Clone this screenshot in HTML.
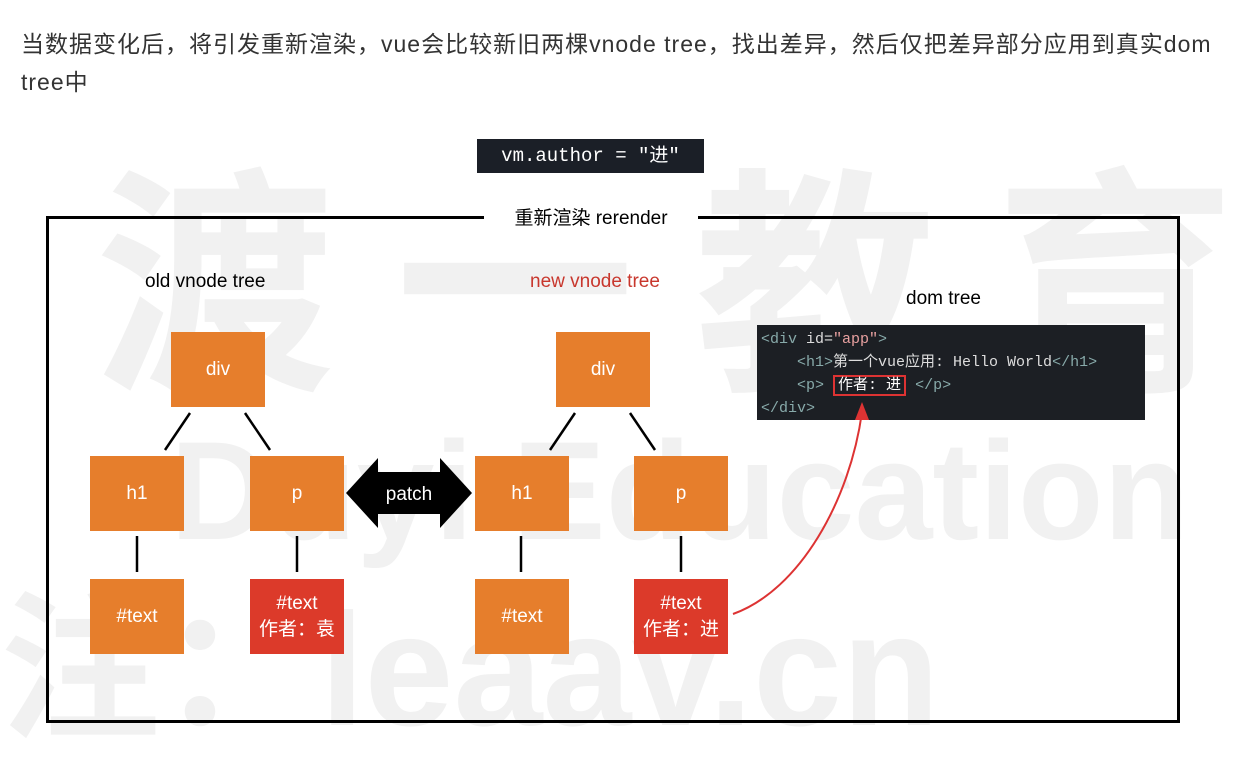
<!DOCTYPE html>
<html><head><meta charset="utf-8"><style>
body{margin:0;width:1256px;height:757px;background:#fff;position:relative;overflow:hidden;font-family:"Liberation Sans","Noto Sans CJK SC",sans-serif}
.a{position:absolute}
.wmc{position:absolute;left:0;top:0;width:1256px;height:757px;overflow:hidden}
.wm{position:absolute;color:#f1f1f1;font-weight:bold;white-space:nowrap}
.b{position:absolute;width:94px;height:75px;background:#e67e2c;color:#fff;font-size:19px;display:flex;align-items:center;justify-content:center;text-align:center;line-height:1.35}
.r{background:#dc3a2a}
.code{font-family:"Liberation Mono","Noto Sans CJK SC",monospace}
</style></head><body>
<div class="wmc">
<div class="wm" style="left:95px;top:95px;font-size:240px;letter-spacing:60px">渡一教育</div>
<div class="wm" style="left:170px;top:410px;font-size:140px">Duyi Education</div>
<div class="wm" style="left:0px;top:540px;font-size:160px">注：leaav.cn</div>
</div>

<div class="a" style="left:21px;top:25px;font-size:23px;color:#333;line-height:38px;width:1235px;letter-spacing:1px;white-space:nowrap">当数据变化后，将引发重新渲染，vue会比较新旧两棵vnode tree，找出差异，然后仅把差异部分应用到真实dom<br>tree中</div>

<div class="a code" style="left:477px;top:139px;width:227px;height:34px;background:#1b1f27;color:#fff;font-size:19px;line-height:34px;text-align:center">vm.author = "进"</div>

<div class="a" style="left:46px;top:216px;width:1128px;height:501px;border:3px solid #000"></div>
<div class="a" style="left:484px;top:204px;width:214px;height:30px;background:#fff;text-align:center;font-size:19px;line-height:30px;color:#000">重新渲染 rerender</div>

<div class="a" style="left:145px;top:271px;font-size:19px">old vnode tree</div>
<div class="a" style="left:530px;top:271px;font-size:19px;color:#c8372d">new vnode tree</div>
<div class="a" style="left:906px;top:288px;font-size:19px">dom tree</div>

<div class="a code" style="left:757px;top:325px;width:388px;height:95px;background:#1c1f24;color:#ddd;font-size:15px;line-height:23px;padding:3px 0 0 4px;box-sizing:border-box;white-space:pre"><span style="color:#8aa">&lt;div</span> id=<span style="color:#e8a0a0">"app"</span><span style="color:#8aa">&gt;</span>
    <span style="color:#8aa">&lt;h1&gt;</span>第一个vue应用: Hello World<span style="color:#8aa">&lt;/h1&gt;</span>
    <span style="color:#8aa">&lt;p&gt;</span> <span style="border:2px solid #d33;color:#fff;padding:0 3px">作者: 进</span> <span style="color:#8aa">&lt;/p&gt;</span>
<span style="color:#8aa">&lt;/div&gt;</span></div>

<div class="b" style="left:171px;top:332px">div</div>
<div class="b" style="left:90px;top:456px">h1</div>
<div class="b" style="left:250px;top:456px">p</div>
<div class="b" style="left:90px;top:579px">#text</div>
<div class="b r" style="left:250px;top:579px">#text<br>作者：袁</div>

<div class="b" style="left:556px;top:332px">div</div>
<div class="b" style="left:475px;top:456px">h1</div>
<div class="b" style="left:634px;top:456px">p</div>
<div class="b" style="left:475px;top:579px">#text</div>
<div class="b r" style="left:634px;top:579px">#text<br>作者：进</div>

<svg class="a" style="left:0;top:0" width="1256" height="757">
<g stroke="#000" stroke-width="2.5">
<line x1="190" y1="413" x2="165" y2="450"/><line x1="245" y1="413" x2="270" y2="450"/>
<line x1="575" y1="413" x2="550" y2="450"/><line x1="630" y1="413" x2="655" y2="450"/>
<line x1="137" y1="536" x2="137" y2="572"/><line x1="297" y1="536" x2="297" y2="572"/>
<line x1="521" y1="536" x2="521" y2="572"/><line x1="681" y1="536" x2="681" y2="572"/>
</g>
<polygon points="346,493 378,458 378,472 440,472 440,458 472,493 440,528 440,514 378,514 378,528" fill="#000"/>
<text x="409" y="500" fill="#fff" font-size="19" text-anchor="middle" font-family="Liberation Sans">patch</text>
<path d="M733,614 C800,590 850,500 862,412" fill="none" stroke="#d33" stroke-width="2"/>
<polygon points="862,402 855,420 869,420" fill="#d33"/>
</svg>
</body></html>
